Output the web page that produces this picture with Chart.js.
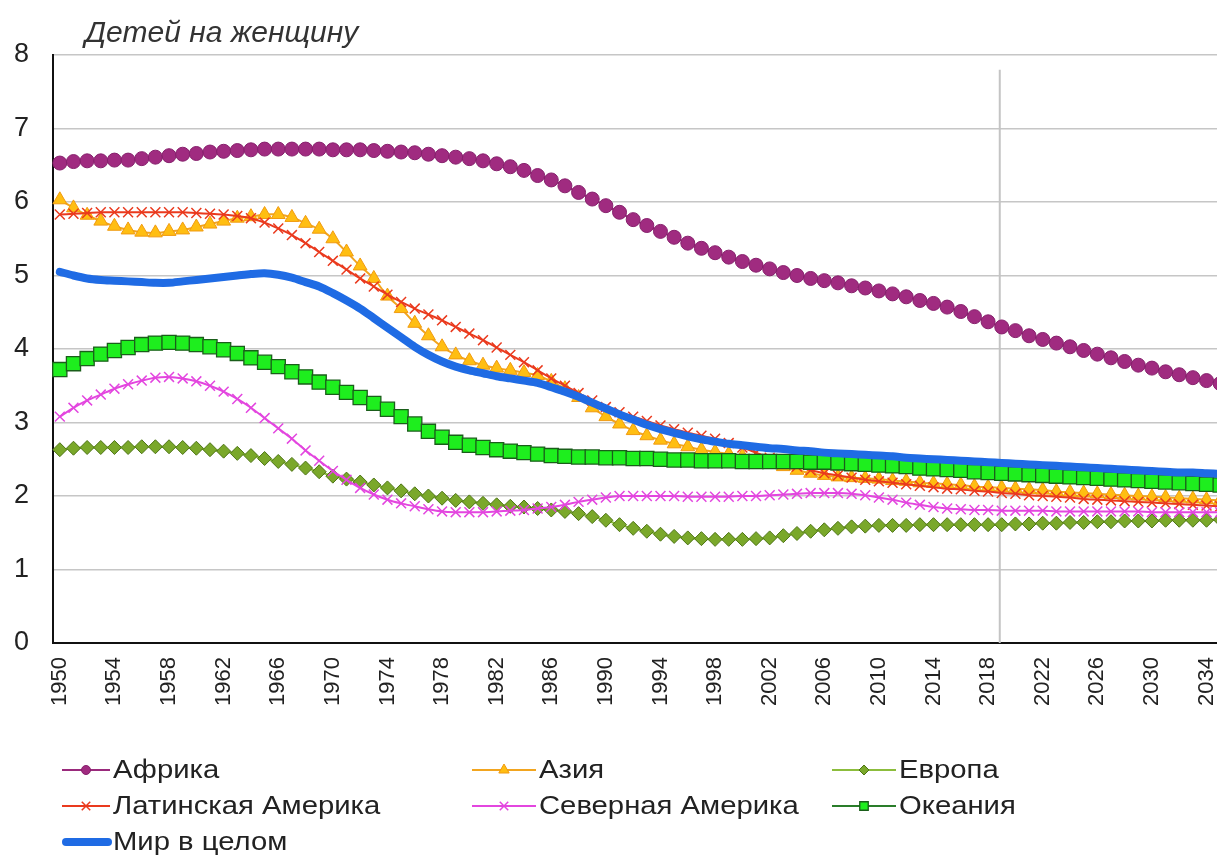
<!DOCTYPE html>
<html lang="ru">
<head>
<meta charset="utf-8">
<title>Детей на женщину</title>
<script src="https://cdn.jsdelivr.net/npm/chart.js@4.4.1/dist/chart.umd.min.js"></script>
<style>
  html, body { margin: 0; padding: 0; background: #fff; overflow: hidden; }
  #wrap { width: 1227px; height: 855px; }
</style>
</head>
<body>
<div id="wrap"><canvas id="chartTFR" width="1227" height="855"></canvas></div>
<script>
// --- Данные (оценки по картинке) ---
const years = [
  '1950','1951','1952','1953','1954','1955','1956','1957','1958','1959',
  '1960','1961','1962','1963','1964','1965','1966','1967','1968','1969',
  '1970','1971','1972','1973','1974','1975','1976','1977','1978','1979',
  '1980','1981','1982','1983','1984','1985','1986','1987','1988','1989',
  '1990','1991','1992','1993','1994','1995','1996','1997','1998','1999',
  '2000','2001','2002','2003','2004','2005','2006','2007','2008','2009',
  '2010','2011','2012','2013','2014','2015','2016','2017','2018','2019',
  '2020','2021','2022','2023','2024','2025','2026','2027','2028','2029',
  '2030','2031','2032','2033','2034','2035'
];

const africa = [
  6.53, 6.55, 6.56, 6.56, 6.57, 6.57, 6.59, 6.61, 6.63, 6.65,
  6.66, 6.68, 6.69, 6.70, 6.71, 6.72, 6.72, 6.72, 6.72, 6.72,
  6.71, 6.71, 6.71, 6.70, 6.69, 6.68, 6.67, 6.65, 6.63, 6.61,
  6.59, 6.56, 6.52, 6.48, 6.43, 6.36, 6.30, 6.22, 6.13, 6.04,
  5.95, 5.86, 5.76, 5.68, 5.60, 5.52, 5.44, 5.37, 5.31, 5.25,
  5.19, 5.14, 5.09, 5.04, 5.00, 4.96, 4.93, 4.90, 4.86, 4.83,
  4.79, 4.75, 4.71, 4.66, 4.62, 4.57, 4.51, 4.44, 4.37, 4.30,
  4.25, 4.18, 4.13, 4.08, 4.03, 3.98, 3.93, 3.88, 3.83, 3.78,
  3.74, 3.69, 3.65, 3.61, 3.57, 3.53
];

const asia = [
  6.03, 5.92, 5.82, 5.74, 5.67, 5.62, 5.59, 5.58, 5.60, 5.62,
  5.66, 5.70, 5.74, 5.78, 5.80, 5.83, 5.83, 5.79, 5.71, 5.63,
  5.50, 5.32, 5.13, 4.96, 4.72, 4.55, 4.35, 4.18, 4.03, 3.92,
  3.84, 3.78, 3.74, 3.71, 3.68, 3.64, 3.56, 3.46, 3.34, 3.20,
  3.08, 2.98, 2.89, 2.82, 2.76, 2.71, 2.67, 2.63, 2.60, 2.57,
  2.54, 2.50, 2.45, 2.40, 2.35, 2.31, 2.28, 2.26, 2.25, 2.24,
  2.23, 2.21, 2.20, 2.18, 2.17, 2.16, 2.15, 2.13, 2.12, 2.11,
  2.10, 2.09, 2.08, 2.06, 2.05, 2.04, 2.03, 2.02, 2.01, 2.00,
  1.99, 1.98, 1.97, 1.96, 1.95, 1.94
];

const europe = [
  2.63, 2.65, 2.66, 2.66, 2.66, 2.66, 2.67, 2.67, 2.67, 2.66,
  2.65, 2.63, 2.61, 2.58, 2.55, 2.51, 2.47, 2.43, 2.38, 2.33,
  2.27, 2.23, 2.19, 2.15, 2.11, 2.07, 2.03, 2.00, 1.97, 1.94,
  1.92, 1.90, 1.88, 1.86, 1.85, 1.83, 1.81, 1.79, 1.76, 1.72,
  1.67, 1.61, 1.56, 1.52, 1.48, 1.45, 1.43, 1.42, 1.41, 1.41,
  1.41, 1.42, 1.43, 1.46, 1.49, 1.52, 1.54, 1.56, 1.58, 1.59,
  1.60, 1.60, 1.60, 1.61, 1.61, 1.61, 1.61, 1.61, 1.61, 1.61,
  1.62, 1.62, 1.63, 1.63, 1.64, 1.64, 1.65, 1.65, 1.66, 1.66,
  1.66, 1.67, 1.67, 1.67, 1.67, 1.68
];

const latinAmerica = [
  5.83, 5.84, 5.85, 5.86, 5.86, 5.86, 5.86, 5.86, 5.86, 5.86,
  5.85, 5.84, 5.83, 5.81, 5.78, 5.72, 5.64, 5.55, 5.44, 5.32,
  5.20, 5.08, 4.96, 4.85, 4.74, 4.64, 4.55, 4.47, 4.39, 4.30,
  4.21, 4.12, 4.02, 3.92, 3.82, 3.71, 3.60, 3.50, 3.40, 3.30,
  3.21, 3.14, 3.08, 3.02, 2.96, 2.91, 2.86, 2.82, 2.78, 2.72,
  2.66, 2.59, 2.52, 2.46, 2.40, 2.35, 2.31, 2.28, 2.25, 2.22,
  2.20, 2.18, 2.16, 2.14, 2.12, 2.10, 2.09, 2.07, 2.06, 2.04,
  2.03, 2.01, 2.00, 1.99, 1.98, 1.96, 1.95, 1.94, 1.93, 1.92,
  1.91, 1.90, 1.89, 1.88, 1.87, 1.86
];

const northAmerica = [
  3.08, 3.20, 3.30, 3.38, 3.46, 3.52, 3.57, 3.61, 3.62, 3.60,
  3.56, 3.50, 3.42, 3.32, 3.20, 3.06, 2.92, 2.78, 2.62, 2.48,
  2.34, 2.22, 2.11, 2.02, 1.95, 1.90, 1.86, 1.82, 1.79, 1.78,
  1.78, 1.78, 1.79, 1.80, 1.81, 1.83, 1.85, 1.88, 1.92, 1.95,
  1.98, 2.00, 2.00, 2.00, 2.00, 2.00, 1.99, 1.99, 1.99, 1.99,
  2.00, 2.00, 2.01, 2.02, 2.03, 2.04, 2.04, 2.04, 2.03, 2.01,
  1.98, 1.95, 1.91, 1.88, 1.85, 1.83, 1.82, 1.81, 1.81, 1.80,
  1.80, 1.80, 1.80, 1.79, 1.79, 1.79, 1.79, 1.79, 1.79, 1.79,
  1.78, 1.78, 1.78, 1.78, 1.78, 1.78
];

const oceania = [
  3.72, 3.80, 3.87, 3.93, 3.98, 4.02, 4.06, 4.08, 4.09, 4.08,
  4.06, 4.03, 3.99, 3.94, 3.88, 3.82, 3.76, 3.69, 3.62, 3.55,
  3.48, 3.41, 3.34, 3.26, 3.18, 3.08, 2.98, 2.88, 2.80, 2.73,
  2.69, 2.66, 2.63, 2.61, 2.59, 2.57, 2.55, 2.54, 2.53, 2.53,
  2.52, 2.52, 2.51, 2.51, 2.50, 2.49, 2.49, 2.48, 2.48, 2.48,
  2.47, 2.47, 2.47, 2.47, 2.47, 2.46, 2.46, 2.45, 2.44, 2.43,
  2.42, 2.41, 2.40, 2.38, 2.37, 2.36, 2.35, 2.33, 2.32, 2.31,
  2.30, 2.29, 2.28, 2.27, 2.26, 2.25, 2.24, 2.23, 2.22, 2.21,
  2.20, 2.19, 2.18, 2.17, 2.16, 2.15
];

const world = [
  5.05, 5.00, 4.96, 4.94, 4.93, 4.92, 4.91, 4.90, 4.90, 4.92,
  4.94, 4.96, 4.98, 5.00, 5.02, 5.03, 5.01, 4.97, 4.91, 4.85,
  4.76, 4.66, 4.55, 4.42, 4.29, 4.16, 4.03, 3.92, 3.83, 3.76,
  3.71, 3.67, 3.63, 3.60, 3.57, 3.54, 3.48, 3.42, 3.35, 3.27,
  3.19, 3.11, 3.04, 2.97, 2.91, 2.86, 2.81, 2.77, 2.74, 2.71,
  2.69, 2.67, 2.65, 2.64, 2.62, 2.61, 2.59, 2.58, 2.57, 2.56,
  2.55, 2.54, 2.52, 2.51, 2.50, 2.49, 2.48, 2.47, 2.46, 2.45,
  2.44, 2.43, 2.42, 2.41, 2.40, 2.39, 2.38, 2.37, 2.36, 2.35,
  2.34, 2.33, 2.32, 2.32, 2.31, 2.30
];

const seriesNames = ['Африка', 'Азия', 'Европа', 'Латинская Америка', 'Северная Америка', 'Океания', 'Мир в целом'];
const yTicks = [0, 1, 2, 3, 4, 5, 6, 7, 8];
const markerYear = '2019';
const axisTitle = 'Детей на женщину';

const FONT = "'Liberation Sans', Arial, sans-serif";

// --- Стили серий ---
function serie(name, data, st) {
  return Object.assign({
    label: name,
    data: data,
    borderWidth: 2,
    pointBorderWidth: 1,
    tension: 0.3,
    fill: false
  }, st);
}

const datasets = [
  serie(seriesNames[0], africa, { borderColor: '#9a2a7c', pointStyle: 'circle', pointRadius: 7,
    pointBackgroundColor: '#a02b80', pointBorderColor: '#86206c' }),
  serie(seriesNames[1], asia, { borderColor: '#f2a51f', pointStyle: 'triangle', pointRadius: 8,
    pointBackgroundColor: '#ffbe12', pointBorderColor: '#f09a10' }),
  serie(seriesNames[2], europe, { borderColor: '#8cbd3c', pointStyle: 'rectRot', pointRadius: 7,
    pointBackgroundColor: '#7aa82a', pointBorderColor: '#4d7414' }),
  serie(seriesNames[3], latinAmerica, { borderColor: '#ea3a1e', pointStyle: 'crossRot', pointRadius: 7,
    pointBorderColor: '#ea3a1e', pointBorderWidth: 1.5 }),
  serie(seriesNames[4], northAmerica, { borderColor: '#e346df', pointStyle: 'crossRot', pointRadius: 7,
    pointBorderColor: '#e346df', pointBorderWidth: 1.5 }),
  serie(seriesNames[5], oceania, { borderColor: '#2a7d2a', pointStyle: 'rect', pointRadius: 10,
    pointBackgroundColor: '#1eee1e', pointBorderColor: '#1a5e1a', pointBorderWidth: 1.3 }),
  serie(seriesNames[6], world, { borderColor: '#1f6be4', borderWidth: 8, pointRadius: 0,
    borderCapStyle: 'round', borderJoinStyle: 'round' })
];
// Excel рисует последнюю серию сверху
datasets.forEach((d, i) => { d.order = datasets.length - i; });

// --- Заголовок оси Y ---
const titlePlugin = {
  id: 'axisTitle',
  afterDraw(chart) {
    const ctx = chart.ctx;
    ctx.save();
    ctx.font = `italic 30px ${FONT}`;
    ctx.fillStyle = '#333';
    ctx.textBaseline = 'alphabetic';
    ctx.fillText(axisTitle, 85, 42);
    ctx.restore();
  }
};

// --- Вертикальная линия (текущий год) ---
const markerPlugin = {
  id: 'markerLine',
  beforeDatasetsDraw(chart) {
    const x = chart.scales.x.getPixelForValue(years.indexOf(markerYear)) - 2;
    const y = chart.scales.y;
    const ctx = chart.ctx;
    ctx.save();
    ctx.strokeStyle = '#c4c4c4';
    ctx.lineWidth = 2;
    ctx.beginPath();
    ctx.moveTo(x, y.getPixelForValue(7.8));
    ctx.lineTo(x, y.getPixelForValue(0));
    ctx.stroke();
    ctx.restore();
  }
};

// --- Легенда в три колонки ---
const legendCols = [62, 472, 832];
const legendRows = [770, 806, 842];
const legendMarkerSize = [4.5, 6, 5, 6, 6, 6, 0];

const legendPlugin = {
  id: 'gridLegend',
  afterDraw(chart) {
    const ctx = chart.ctx;
    ctx.save();
    chart.data.datasets.forEach((ds, i) => {
      const x0 = legendCols[i % 3];
      const y0 = legendRows[Math.floor(i / 3)];
      const thick = ds.borderWidth === 8;
      const len = i % 3 === 0 ? 48 : 64;
      const lx = x0;
      ctx.lineCap = thick ? 'round' : 'butt';
      ctx.strokeStyle = ds.borderColor;
      ctx.lineWidth = thick ? 8 : 2;
      ctx.beginPath();
      ctx.moveTo(lx + (thick ? 4 : 0), y0);
      ctx.lineTo(lx + len - (thick ? 2 : 0), y0);
      ctx.stroke();
      if (legendMarkerSize[i] > 0) {
        ctx.fillStyle = ds.pointBackgroundColor || ds.borderColor;
        ctx.strokeStyle = ds.pointBorderColor || ds.borderColor;
        ctx.lineWidth = ds.pointBorderWidth;
        Chart.helpers.drawPoint(ctx, { pointStyle: ds.pointStyle, radius: legendMarkerSize[i], rotation: 0, borderWidth: ds.pointBorderWidth }, lx + len / 2, y0);
      }
      // в оригинале шрифт легенды заметно шире
      ctx.font = `25px ${FONT}`;
      ctx.fillStyle = '#222';
      ctx.textBaseline = 'middle';
      ctx.save();
      ctx.translate(lx + len + 3, y0 + 1);
      ctx.scale(1.17, 1);
      ctx.fillText(ds.label, 0, 0);
      ctx.restore();
    });
    ctx.restore();
  }
};

new Chart(document.getElementById('chartTFR').getContext('2d'), {
  type: 'line',
  data: { labels: years, datasets: datasets },
  options: {
    responsive: false,
    animation: false,
    layout: { autoPadding: false, padding: { top: 55, left: 0, right: 0, bottom: 0 } },
    plugins: { legend: { display: false }, tooltip: { enabled: false } },
    scales: {
      x: {
        type: 'category',
        offset: true,
        grid: { display: false },
        border: { display: true, color: '#111', width: 2 },
        ticks: {
          autoSkip: false,
          maxRotation: 90,
          minRotation: 90,
          padding: 6,
          color: '#222',
          font: { family: FONT, size: 22 },
          callback: (v, i) => (i % 4 === 0 ? years[i] : '')
        },
        afterFit: s => { s.height = 212; s.paddingLeft = 0; s.paddingRight = 0; }
      },
      y: {
        min: yTicks[0],
        max: yTicks[yTicks.length - 1],
        afterBuildTicks: s => { s.ticks = yTicks.map(v => ({ value: v })); },
        grid: { color: '#c6c6c6', lineWidth: 1.5, drawTicks: false },
        border: { display: true, color: '#111', width: 2 },
        ticks: { padding: 24, color: '#222', font: { family: FONT, size: 27 } },
        afterFit: s => { s.width = 53; }
      }
    }
  },
  plugins: [markerPlugin, titlePlugin, legendPlugin]
});
</script>
</body>
</html>
